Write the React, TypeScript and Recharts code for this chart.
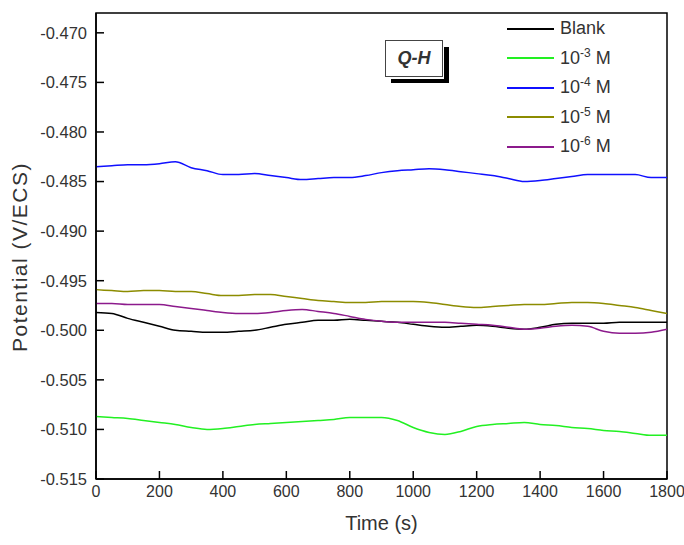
import { LineChart, Line, XAxis, YAxis, Label, ReferenceArea } from 'recharts';

const FONT = 'Liberation Sans, Arial, sans-serif';

// time (s)
const times = [
  0, 50, 100, 150, 200, 250, 300, 350, 400, 450, 500, 550, 600, 650, 700, 750, 800, 850, 900,
  950, 1000, 1050, 1100, 1150, 1200, 1250, 1300, 1350, 1400, 1450, 1500, 1550, 1600, 1650, 1700,
  1750, 1800,
];

// potential (V/ECS)
const blank = [
  -0.4982, -0.4983, -0.4988, -0.4992, -0.4996, -0.5, -0.5001, -0.5002, -0.5002, -0.5001, -0.5,
  -0.4997, -0.4994, -0.4992, -0.499, -0.499, -0.4989, -0.499, -0.4991, -0.4992, -0.4994, -0.4996,
  -0.4997, -0.4996, -0.4995, -0.4996, -0.4998, -0.4999, -0.4997, -0.4994, -0.4993, -0.4993,
  -0.4993, -0.4992, -0.4992, -0.4992, -0.4992,
];
const c3 = [
  -0.5087, -0.5088, -0.5089, -0.5091, -0.5093, -0.5095, -0.5098, -0.51, -0.5099, -0.5097, -0.5095,
  -0.5094, -0.5093, -0.5092, -0.5091, -0.509, -0.5088, -0.5088, -0.5088, -0.5091, -0.5098,
  -0.5103, -0.5105, -0.5102, -0.5097, -0.5095, -0.5094, -0.5093, -0.5095, -0.5096, -0.5098,
  -0.5099, -0.5101, -0.5102, -0.5104, -0.5106, -0.5106,
];
const c4 = [
  -0.4835, -0.4834, -0.4833, -0.4833, -0.4832, -0.483, -0.4836, -0.4839, -0.4843, -0.4843,
  -0.4842, -0.4844, -0.4846, -0.4848, -0.4847, -0.4846, -0.4846, -0.4844, -0.4841, -0.4839,
  -0.4838, -0.4837, -0.4838, -0.484, -0.4842, -0.4844, -0.4847, -0.485, -0.4849, -0.4847, -0.4845,
  -0.4843, -0.4843, -0.4843, -0.4843, -0.4846, -0.4846,
];
const c5 = [
  -0.4959, -0.496, -0.4961, -0.496, -0.496, -0.4961, -0.4961, -0.4963, -0.4965, -0.4965, -0.4964,
  -0.4964, -0.4966, -0.4968, -0.497, -0.4971, -0.4972, -0.4972, -0.4971, -0.4971, -0.4971,
  -0.4972, -0.4974, -0.4976, -0.4977, -0.4976, -0.4975, -0.4974, -0.4974, -0.4973, -0.4972,
  -0.4972, -0.4973, -0.4975, -0.4977, -0.498, -0.4983,
];
const c6 = [
  -0.4973, -0.4973, -0.4974, -0.4974, -0.4974, -0.4976, -0.4978, -0.498, -0.4982, -0.4983,
  -0.4983, -0.4982, -0.498, -0.4979, -0.4981, -0.4983, -0.4986, -0.4989, -0.4991, -0.4992,
  -0.4992, -0.4992, -0.4992, -0.4993, -0.4994, -0.4995, -0.4997, -0.4999, -0.4998, -0.4996,
  -0.4995, -0.4996, -0.5001, -0.5003, -0.5003, -0.5002, -0.4999,
];

const xTicks = [0, 200, 400, 600, 800, 1000, 1200, 1400, 1600, 1800];
const yTicks = [-0.515, -0.51, -0.505, -0.5, -0.495, -0.49, -0.485, -0.48, -0.475, -0.47];

const series = [
  { key: 'blank', name: 'Blank', exp: '', color: '#000000', values: blank },
  { key: 'c3', name: '10', exp: '-3', color: '#22f022', values: c3 },
  { key: 'c4', name: '10', exp: '-4', color: '#1010ff', values: c4 },
  { key: 'c5', name: '10', exp: '-5', color: '#8c8c00', values: c5 },
  { key: 'c6', name: '10', exp: '-6', color: '#8c1a8c', values: c6 },
];

const data = times.map((t, i) => {
  const row: Record<string, number> = { t };
  series.forEach((s) => (row[s.key] = s.values[i]));
  return row;
});

const LegendBox = () => (
  <div style={{ position: 'absolute', left: 507, top: 14, width: 150, fontFamily: FONT, color: '#333' }}>
    {series.map((s) => (
      <div key={s.key} style={{ height: 29.5, display: 'flex', alignItems: 'center' }}>
        <span style={{ width: 47, height: 1.6, background: s.color, marginRight: 6 }} />
        <span style={{ fontSize: 18, whiteSpace: 'nowrap' }}>
          {s.name}
          {s.exp && (
            <span style={{ fontSize: 12, position: 'relative', top: -7 }}>{s.exp}</span>
          )}
          {s.exp && ' M'}
        </span>
      </div>
    ))}
  </div>
);

export default function App() {
  return (
    <div style={{ position: 'absolute', left: 0, top: 0, width: 684, height: 545, background: '#fff' }}>
      <LineChart width={684} height={545} data={data} margin={{ top: 13, right: 17, bottom: 0, left: 0 }}>
        <XAxis
          dataKey="t"
          type="number"
          domain={[0, 1800]}
          ticks={xTicks}
          height={66}
          tickSize={-8}
          tickMargin={15}
          stroke="#000"
          strokeWidth={1.5}
          tick={{ fill: '#333', fontSize: 16, fontFamily: FONT }}
        >
          <Label
            content={(p: any) => (
              <text
                x={p.viewBox.x + p.viewBox.width / 2}
                y={p.viewBox.y + 51}
                textAnchor="middle"
                fill="#333"
                fontSize={20}
                fontFamily={FONT}
              >
                Time (s)
              </text>
            )}
          />
        </XAxis>
        <YAxis
          type="number"
          domain={[-0.515, -0.468]}
          ticks={yTicks}
          allowDataOverflow
          width={96}
          tickSize={-8}
          tickMargin={17}
          stroke="#000"
          strokeWidth={1.5}
          tickFormatter={(v: number) => v.toFixed(3)}
          tick={{ fill: '#333', fontSize: 16.5, fontFamily: FONT }}
        >
          <Label
            content={() => (
              <text
                x={27}
                y={257}
                transform="rotate(-90 27 257)"
                textAnchor="middle"
                fill="#333"
                fontSize={21}
                letterSpacing={1.5}
                fontFamily={FONT}
              >
                Potential (V/ECS)
              </text>
            )}
          />
        </YAxis>
        <ReferenceArea
          x1={0}
          x2={1800}
          y1={-0.515}
          y2={-0.468}
          fill="none"
          fillOpacity={0}
          stroke="#000"
          strokeWidth={1.5}
          ifOverflow="visible"
        />
        {series.map((s) => (
          <Line
            key={s.key}
            dataKey={s.key}
            name={s.key}
            type="monotone"
            stroke={s.color}
            strokeWidth={1.5}
            dot={false}
            isAnimationActive={false}
          />
        ))}
      </LineChart>
      <LegendBox />
      <div
        style={{
          position: 'absolute',
          left: 385,
          top: 40,
          width: 56,
          height: 35,
          border: '1px solid #444',
          background: '#fff',
          display: 'flex',
          alignItems: 'center',
          justifyContent: 'center',
          fontFamily: FONT,
          fontWeight: 'bold',
          fontStyle: 'italic',
          fontSize: 18,
          color: '#333',
        }}
      >
        Q-H
      </div>
      <div style={{ position: 'absolute', left: 444, top: 47, width: 5, height: 36, background: '#000' }} />
      <div style={{ position: 'absolute', left: 391, top: 79, width: 58, height: 4, background: '#000' }} />
    </div>
  );
}
